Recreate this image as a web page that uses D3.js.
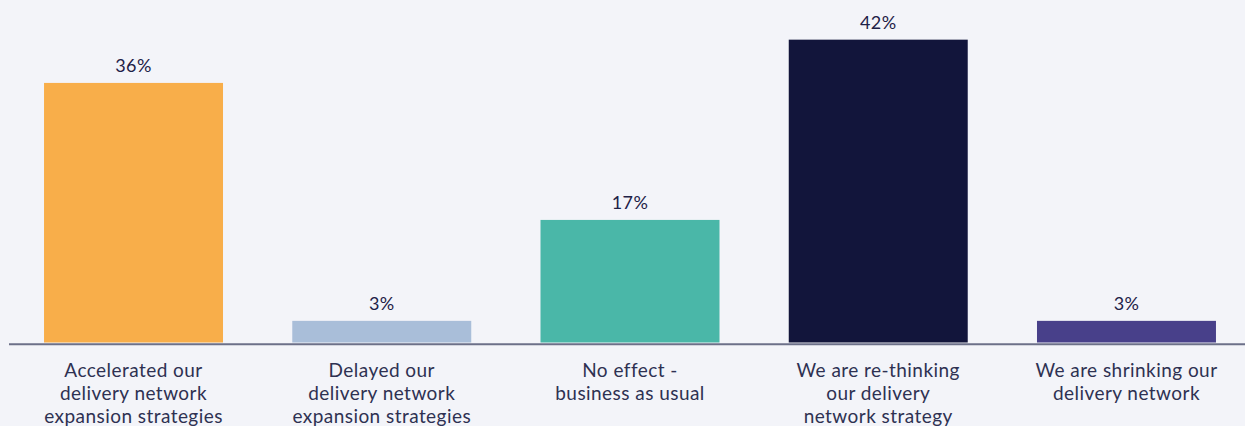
<!DOCTYPE html>
<html>
<head>
<meta charset="utf-8">
<script src="https://cdn.jsdelivr.net/npm/d3@7"></script>
<style>
  html, body { margin: 0; padding: 0; background: #f3f4f9; }
  svg { display: block; }
</style>
</head>
<body>
<svg id="chart" width="1245" height="426"></svg>
<script>
// Survey responses: effect on delivery network strategy
const categories = [
  ["Accelerated our", "delivery network", "expansion strategies"],
  ["Delayed our", "delivery network", "expansion strategies"],
  ["No effect -", "business as usual"],
  ["We are re-thinking", "our delivery", "network strategy"],
  ["We are shrinking our", "delivery network"]
];
const values = [36, 3, 17, 42, 3];
const valueLabels = ["36%", "3%", "17%", "42%", "3%"];
const colors = ["#f8ae4a", "#a9bed9", "#4ab7a8", "#12153b", "#48408a"];

const W = 1245, H = 426;
const baseY = 342.5;
const svg = d3.select("#chart");
const font = "Lato, 'Open Sans', sans-serif";

const keys = categories.map((c, i) => i);
const x = d3.scaleBand()
  .domain(keys)
  .range([9.4, 1250.6])
  .paddingInner(0.279)
  .paddingOuter(0.1395);

const y = d3.scaleLinear()
  .domain([0, 47.5])
  .range([baseY, 0]);

// Bars
svg.append("g")
  .selectAll("rect")
  .data(values)
  .join("rect")
  .attr("x", (d, i) => x(i))
  .attr("y", d => y(d))
  .attr("width", x.bandwidth())
  .attr("height", d => baseY - y(d))
  .attr("fill", (d, i) => colors[i]);

// Value labels above bars
svg.append("g")
  .selectAll("text")
  .data(values)
  .join("text")
  .attr("x", (d, i) => x(i) + x.bandwidth() / 2)
  .attr("y", d => y(d) - 11)
  .attr("text-anchor", "middle")
  .attr("font-family", font)
  .attr("font-size", 18)
  .attr("letter-spacing", 0.4)
  .attr("fill", "#1e2147")
  .text((d, i) => valueLabels[i]);

// Baseline axis
const axis = d3.axisBottom(x).tickSize(0).tickFormat("");
const axisG = svg.append("g")
  .attr("transform", `translate(0,${baseY + 1.8})`)
  .call(axis);
axisG.select(".domain")
  .attr("d", "M9,0H1245")
  .attr("stroke", "#6c7089")
  .attr("stroke-width", 2);

// Category labels
const lab = svg.append("g")
  .selectAll("text")
  .data(categories)
  .join("text")
  .attr("text-anchor", "middle")
  .attr("font-family", font)
  .attr("font-size", 19)
  .attr("letter-spacing", 0.45)
  .attr("fill", "#2e3152");
lab.each(function(lines, i) {
  const t = d3.select(this);
  lines.forEach((ln, j) => {
    t.append("tspan")
      .attr("x", x(i) + x.bandwidth() / 2)
      .attr("y", 377 + j * 23)
      .text(ln);
  });
});
</script>
</body>
</html>
